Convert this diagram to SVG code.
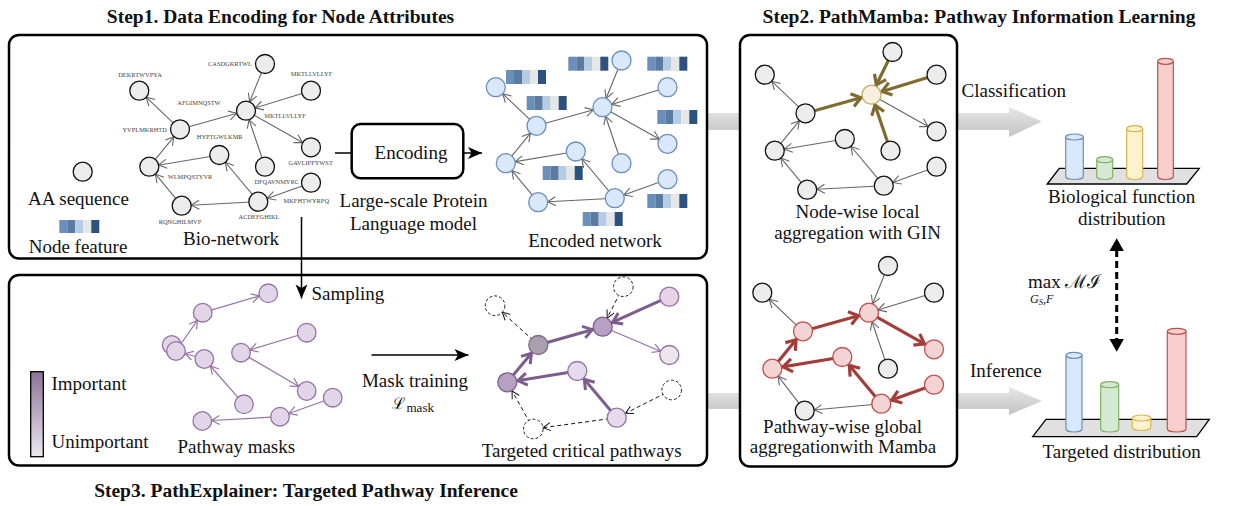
<svg xmlns="http://www.w3.org/2000/svg" width="1250" height="506" viewBox="0 0 1250 506">
<style>
  text { font-family: "Liberation Serif", "Times New Roman", serif; fill: #111; }
  .title { font-size: 19.5px; font-weight: bold; text-anchor: middle; }
  .lbl { font-size: 19px; }
  .mid { text-anchor: middle; }
  .seq { font-size: 6.4px; fill: #444; text-anchor: middle; }
  .math { font-family: "DejaVu Serif", "Liberation Serif", serif; }
  .panel { fill: #fff; stroke: #000; stroke-width: 2.5; }
  .n-gray { fill: #ececec; stroke: #111; stroke-width: 1.3; }
  .n-blue { fill: #dae8fc; stroke: #6c8ebf; stroke-width: 1.3; }
  .n-gold { fill: #f7f0dc; stroke: #c2ad6e; stroke-width: 1.3; }
  .n-pink { fill: #f2d4d4; stroke: #c0504d; stroke-width: 1.3; }
  .n-mask { fill: #e1d5e7; stroke: #9673a6; stroke-width: 1.3; }
  .n-dash { fill: #fff; stroke: #222; stroke-width: 1; stroke-dasharray: 3 2; }
  .e-gray { stroke: #666; stroke-width: 1.1; fill: none; marker-end: url(#m-gray); }
  .e-olive { stroke: #7d6b2f; stroke-width: 3.2; fill: none; marker-end: url(#m-olive); }
  .e-red { stroke: #a33d3a; stroke-width: 3.2; fill: none; marker-end: url(#m-red); }
  .e-pur { stroke: #9673a6; stroke-width: 1.2; fill: none; marker-end: url(#m-pur); }
  .e-pur-thick { stroke: #7b5e8c; stroke-width: 3; fill: none; marker-end: url(#m-pur-thick); }
  .e-dash { stroke: #111; stroke-width: 1; stroke-dasharray: 4 3; fill: none; marker-end: url(#m-dash); }
  .e-flow { stroke: #000; stroke-width: 1.5; fill: none; marker-end: url(#m-flow); }
</style>
<defs>
  <marker id="m-gray" markerUnits="userSpaceOnUse" markerWidth="30" markerHeight="20" refX="19.5" refY="10" orient="auto" overflow="visible">
    <path d="M2,5.5 L10,10 L2,14.5" fill="none" stroke="#666" stroke-width="1.1"/>
  </marker>
  <marker id="m-pur" markerUnits="userSpaceOnUse" markerWidth="30" markerHeight="20" refX="19.3" refY="10" orient="auto" overflow="visible">
    <path d="M2,5.5 L10,10 L2,14.5" fill="none" stroke="#9673a6" stroke-width="1.2"/>
  </marker>
  <marker id="m-dash" markerUnits="userSpaceOnUse" markerWidth="30" markerHeight="20" refX="19.8" refY="10" orient="auto" overflow="visible">
    <path d="M2.5,6 L10,10 L2.5,14" fill="none" stroke="#111" stroke-width="1"/>
  </marker>
  <marker id="m-olive" markerUnits="userSpaceOnUse" markerWidth="30" markerHeight="24" refX="21" refY="10" orient="auto" overflow="visible">
    <path d="M1,3.5 L10,10 L1,16.5" fill="none" stroke="#7d6b2f" stroke-width="3.2"/>
  </marker>
  <marker id="m-red" markerUnits="userSpaceOnUse" markerWidth="30" markerHeight="24" refX="21" refY="10" orient="auto" overflow="visible">
    <path d="M1,3.5 L10,10 L1,16.5" fill="none" stroke="#a33d3a" stroke-width="3.2"/>
  </marker>
  <marker id="m-pur-thick" markerUnits="userSpaceOnUse" markerWidth="30" markerHeight="24" refX="20.8" refY="10" orient="auto" overflow="visible">
    <path d="M1,4 L10,10 L1,16" fill="none" stroke="#7b5e8c" stroke-width="3"/>
  </marker>
  <marker id="m-flow" markerUnits="userSpaceOnUse" markerWidth="16" markerHeight="14" refX="14" refY="7" orient="auto" overflow="visible">
    <path d="M0,1 L14,7 L0,13 L3.5,7 Z" fill="#000"/>
  </marker>
  <linearGradient id="g-band" x1="0" y1="0" x2="0" y2="1">
    <stop offset="0" stop-color="#e6e6e6"/>
    <stop offset="1" stop-color="#c4c4c4"/>
  </linearGradient>
  <linearGradient id="g-legend" x1="0" y1="0" x2="0" y2="1">
    <stop offset="0" stop-color="#8b7397"/>
    <stop offset="1" stop-color="#ece8ef"/>
  </linearGradient>
  <g id="feat">
    <rect x="0" y="0" width="8" height="14" fill="#6a8fba"/>
    <rect x="8" y="0" width="8" height="14" fill="#5a7ca3"/>
    <rect x="16" y="0" width="8" height="14" fill="#b5cce3"/>
    <rect x="24" y="0" width="8" height="14" fill="#e6e6e6"/>
    <rect x="32" y="0" width="8" height="14" fill="#2d527d"/>
  </g>
  <!-- shared edge layout of the protein network -->
  <g id="net-edges-base">
    <line x1="180" y1="129.3" x2="139.3" y2="90.7"/>
    <line x1="265" y1="166.7" x2="246" y2="110.7"/>
    <line x1="149.3" y1="166.7" x2="180" y2="129.3"/>
    <line x1="219.3" y1="155" x2="149.3" y2="166.7"/>
    <line x1="181.7" y1="205.7" x2="149.3" y2="166.7"/>
    <line x1="258.3" y1="201.7" x2="181.7" y2="205.7"/>
    <line x1="258.3" y1="201.7" x2="219.3" y2="155"/>
    <line x1="311" y1="182.7" x2="258.3" y2="201.7"/>
  </g>
</defs>

<!-- wide grey flow arrows (behind panels) -->
<g id="flow-bands">
  <path d="M706,113 H1009 V107 L1042,121.5 L1009,137 V130 H706 Z" fill="url(#g-band)"/>
  <path d="M706,393 H1009 V387 L1042,401 L1009,415 V409 H706 Z" fill="url(#g-band)"/>
</g>

<!-- panels -->
<g id="panels">
  <rect id="panel-step1" class="panel" x="9" y="35" width="698" height="223.5" rx="10"/>
  <rect id="panel-step3" class="panel" x="9" y="275" width="698" height="190.5" rx="10"/>
  <rect id="panel-step2" class="panel" x="740" y="35" width="217" height="431.5" rx="10"/>
</g>

<!-- titles -->
<text class="title" x="280.5" y="23">Step1. Data Encoding for Node Attributes</text>
<text class="title" x="979" y="23">Step2. PathMamba: Pathway Information Learning</text>
<text class="title" x="306" y="497">Step3. PathExplainer: Targeted Pathway Inference</text>

<g id="connectors">
  <!-- bio-network -->
  <g id="bio-edges" class="e-gray">
    <use href="#net-edges-base"/>
    <line x1="180" y1="129.3" x2="246" y2="110.7"/>
    <line x1="265" y1="64" x2="246" y2="110.7"/>
    <line x1="311" y1="90.7" x2="246" y2="110.7"/>
    <line x1="246" y1="110.7" x2="311" y2="147.3"/>
  </g>
  <!-- encoded network -->
  <g id="enc-edges" class="e-gray" transform="translate(356.5,-3.5)">
    <use href="#net-edges-base"/>
    <line x1="180" y1="129.3" x2="246" y2="110.7"/>
    <line x1="265" y1="64" x2="246" y2="110.7"/>
    <line x1="311" y1="90.7" x2="246" y2="110.7"/>
    <line x1="246" y1="110.7" x2="311" y2="147.3"/>
  </g>
  <!-- GIN local aggregation -->
  <g id="gin-edges" transform="translate(625.5,-16)">
    <g class="e-gray">
      <line x1="180" y1="129.3" x2="139.3" y2="90.7"/>
      <line x1="149.3" y1="166.7" x2="180" y2="129.3"/>
      <line x1="219.3" y1="155" x2="149.3" y2="166.7"/>
      <line x1="181.7" y1="205.7" x2="149.3" y2="166.7"/>
      <line x1="258.3" y1="201.7" x2="181.7" y2="205.7"/>
      <line x1="258.3" y1="201.7" x2="219.3" y2="155"/>
      <line x1="311" y1="182.7" x2="258.3" y2="201.7"/>
      <line x1="246" y1="110.7" x2="311" y2="147.3"/>
    </g>
    <g class="e-olive">
      <line x1="180" y1="129.3" x2="246" y2="110.7"/>
      <line x1="267" y1="68" x2="246" y2="110.7"/>
      <line x1="311" y1="90.7" x2="246" y2="110.7"/>
      <line x1="265" y1="166.7" x2="246" y2="110.7"/>
    </g>
  </g>
  <!-- Mamba pathway aggregation -->
  <g id="mamba-edges" transform="translate(623,202)">
    <g class="e-gray">
      <line x1="180" y1="129.3" x2="139.3" y2="90.7"/>
      <line x1="265" y1="64" x2="246" y2="110.7"/>
      <line x1="311" y1="90.7" x2="246" y2="110.7"/>
      <line x1="265" y1="166.7" x2="246" y2="110.7"/>
      <line x1="181.7" y1="208.7" x2="149.3" y2="166.7"/>
      <line x1="258.3" y1="201.7" x2="181.7" y2="208.7"/>
    </g>
    <g class="e-red">
      <line x1="149.3" y1="166.7" x2="180" y2="129.3"/>
      <line x1="180" y1="129.3" x2="246" y2="110.7"/>
      <line x1="246" y1="110.7" x2="311" y2="147.3"/>
      <line x1="219.3" y1="155" x2="149.3" y2="166.7"/>
      <line x1="258.3" y1="201.7" x2="219.3" y2="155"/>
      <line x1="311" y1="182.7" x2="258.3" y2="201.7"/>
    </g>
  </g>
  <!-- pathway masks -->
  <g id="mask-edges" class="e-pur">
    <line x1="202.7" y1="312.7" x2="268.3" y2="293.3"/>
    <line x1="176" y1="351" x2="202.7" y2="312.7"/>
    <line x1="204.3" y1="359" x2="176" y2="351"/>
    <line x1="244" y1="404.3" x2="204.3" y2="359"/>
    <line x1="306.7" y1="332.7" x2="241" y2="352.7"/>
    <line x1="241" y1="352.7" x2="306.7" y2="391"/>
    <line x1="332.7" y1="397.7" x2="280" y2="416.7"/>
    <line x1="280" y1="416.7" x2="202.3" y2="421"/>
  </g>
  <!-- targeted critical pathways -->
  <g id="target-edges">
    <g class="e-dash">
      <line x1="538.3" y1="345" x2="495" y2="305.7"/>
      <line x1="623.3" y1="286.7" x2="602.7" y2="326.7"/>
      <line x1="671.7" y1="390" x2="616.7" y2="417.7"/>
      <line x1="616.7" y1="417.7" x2="533.3" y2="429"/>
      <line x1="533.3" y1="429" x2="507.3" y2="382.3"/>
    </g>
    <line class="e-pur" x1="602.7" y1="326.7" x2="669.3" y2="355"/>
    <g class="e-pur-thick">
      <line x1="538.3" y1="345" x2="602.7" y2="326.7"/>
      <line x1="669.3" y1="296.7" x2="602.7" y2="326.7"/>
      <line x1="507.3" y1="382.3" x2="538.3" y2="345"/>
      <line x1="577.3" y1="371" x2="507.3" y2="382.3"/>
      <line x1="616.7" y1="417.7" x2="577.3" y2="371"/>
    </g>
  </g>
  <!-- process flow -->
  <g id="flow-arrows">
    <line x1="335" y1="153" x2="352" y2="153" stroke="#000" stroke-width="1.5"/>
    <line class="e-flow" x1="463.5" y1="153" x2="482" y2="153"/>
    <line class="e-flow" x1="301.5" y1="217" x2="301.5" y2="298.5"/>
    <line class="e-flow" x1="371.5" y1="355" x2="468.5" y2="355"/>
  </g>
  <!-- mutual-information link -->
  <g id="mi-link">
    <line x1="1116.7" y1="250" x2="1116.7" y2="340" stroke="#000" stroke-width="3" stroke-dasharray="7 4"/>
    <polygon points="1116.7,238.3 1109.5,251 1123.9,251" fill="#000"/>
    <polygon points="1116.7,351.7 1109.5,339 1123.9,339" fill="#000"/>
  </g>
</g>

<!-- Step1: bio-network -->
<g id="bio-network">
  <g id="bio-dekr"><circle class="n-gray" cx="139.3" cy="90.7" r="9.5"/><text class="seq" x="140" y="77">DEKRTWVPYA</text></g>
  <g id="bio-casd"><circle class="n-gray" cx="265" cy="64" r="9.5"/><text class="seq" x="230" y="66">CASDGKRTWL</text></g>
  <g id="bio-mktl"><circle class="n-gray" cx="311" cy="90.7" r="9.5"/><text class="seq" x="311.5" y="75.5">MKTLLVLLYF</text></g>
  <g id="bio-hub"><circle class="n-gray" cx="246" cy="110.7" r="9.5"/><text class="seq" x="199" y="105">AFGIMNQSTW</text><text class="seq" x="285" y="117.5">MKTLLVLLYF</text></g>
  <g id="bio-yvpl"><circle class="n-gray" cx="180" cy="129.3" r="9.5"/><text class="seq" x="144.7" y="131.5">YVPLMKRHTD</text></g>
  <g id="bio-gavl"><circle class="n-gray" cx="311" cy="147.3" r="9.5"/><text class="seq" x="310.7" y="164.5">GAVLIPFYWST</text></g>
  <g id="bio-hypt"><circle class="n-gray" cx="219.3" cy="155" r="9.5"/><text class="seq" x="219.7" y="139">HYPTGWLKMR</text></g>
  <g id="bio-wlmp"><circle class="n-gray" cx="149.3" cy="166.7" r="9.5"/><text class="seq" x="190" y="179">WLMPQSTYVR</text></g>
  <g id="bio-dfqa"><circle class="n-gray" cx="265" cy="166.7" r="9.5"/><text class="seq" x="276.7" y="184">DFQAVNMYRC</text></g>
  <g id="bio-mkfh"><circle class="n-gray" cx="311" cy="182.7" r="9.5"/><text class="seq" x="306.3" y="203">MKFHTWYRPQ</text></g>
  <g id="bio-acde"><circle class="n-gray" cx="258.3" cy="201.7" r="9.5"/><text class="seq" x="259" y="218.5">ACDEFGHIKL</text></g>
  <g id="bio-rqng"><circle class="n-gray" cx="181.7" cy="205.7" r="9.5"/><text class="seq" x="180" y="223.5">RQNGHILMVP</text></g>
</g>

<!-- legend of step 1 -->
<g id="aa-legend"><circle class="n-gray" cx="82.7" cy="171.7" r="9.5"/></g>
<g id="feature-legend"><use href="#feat" transform="translate(59.3,220) scale(1,0.93)"/></g>
<text class="lbl mid" x="78.5" y="205">AA sequence</text>
<text class="lbl mid" x="78" y="252.5">Node feature</text>
<text class="lbl mid" x="231" y="245">Bio-network</text>

<!-- encoder -->
<g id="encoder">
  <rect x="351.7" y="124" width="111.6" height="54.3" rx="9" fill="#fff" stroke="#000" stroke-width="2.5"/>
  <text class="lbl mid" x="411" y="158.5">Encoding</text>
</g>
<text class="lbl mid" x="413.5" y="206.5">Large-scale Protein</text>
<text class="lbl mid" x="413.5" y="229.5">Language model</text>

<!-- encoded network -->
<g id="encoded-network" transform="translate(356.5,-3.5)">
  <g id="enc-dekr"><circle class="n-blue" cx="139.3" cy="90.7" r="9.5"/></g>
  <g id="enc-casd"><circle class="n-blue" cx="265" cy="64" r="9.5"/></g>
  <g id="enc-mktl"><circle class="n-blue" cx="311" cy="90.7" r="9.5"/></g>
  <g id="enc-hub"><circle class="n-blue" cx="246" cy="110.7" r="9.5"/></g>
  <g id="enc-yvpl"><circle class="n-blue" cx="180" cy="129.3" r="9.5"/></g>
  <g id="enc-gavl"><circle class="n-blue" cx="311" cy="147.3" r="9.5"/></g>
  <g id="enc-hypt"><circle class="n-blue" cx="219.3" cy="155" r="9.5"/></g>
  <g id="enc-wlmp"><circle class="n-blue" cx="149.3" cy="166.7" r="9.5"/></g>
  <g id="enc-dfqa"><circle class="n-blue" cx="265" cy="166.7" r="9.5"/></g>
  <g id="enc-mkfh"><circle class="n-blue" cx="311" cy="182.7" r="9.5"/></g>
  <g id="enc-acde"><circle class="n-blue" cx="258.3" cy="201.7" r="9.5"/></g>
  <g id="enc-rqng"><circle class="n-blue" cx="181.7" cy="205.7" r="9.5"/></g>
</g>
<g id="encoded-features">
  <use href="#feat" x="506" y="70"/>
  <use href="#feat" x="568.3" y="56.7"/>
  <use href="#feat" x="647.3" y="56.7"/>
  <use href="#feat" x="526.7" y="96"/>
  <use href="#feat" x="657.3" y="110"/>
  <use href="#feat" x="542.7" y="166"/>
  <use href="#feat" x="647.3" y="194"/>
  <use href="#feat" x="582.7" y="212"/>
</g>
<text class="lbl mid" x="595" y="246.5">Encoded network</text>

<!-- Step2: GIN -->
<g id="gin-network" transform="translate(625.5,-16)">
  <g id="gin-dekr"><circle class="n-gray" cx="139.3" cy="90.7" r="9.5"/></g>
  <g id="gin-casd"><circle class="n-gray" cx="267" cy="68" r="9.5"/></g>
  <g id="gin-mktl"><circle class="n-gray" cx="311" cy="90.7" r="9.5"/></g>
  <g id="gin-hub"><circle class="n-gold" cx="246" cy="110.7" r="9.5"/></g>
  <g id="gin-yvpl"><circle class="n-gray" cx="180" cy="129.3" r="9.5"/></g>
  <g id="gin-gavl"><circle class="n-gray" cx="311" cy="147.3" r="9.5"/></g>
  <g id="gin-hypt"><circle class="n-gray" cx="219.3" cy="155" r="9.5"/></g>
  <g id="gin-wlmp"><circle class="n-gray" cx="149.3" cy="166.7" r="9.5"/></g>
  <g id="gin-dfqa"><circle class="n-gray" cx="265" cy="166.7" r="9.5"/></g>
  <g id="gin-mkfh"><circle class="n-gray" cx="311" cy="182.7" r="9.5"/></g>
  <g id="gin-acde"><circle class="n-gray" cx="258.3" cy="201.7" r="9.5"/></g>
  <g id="gin-rqng"><circle class="n-gray" cx="181.7" cy="205.7" r="9.5"/></g>
</g>
<text class="lbl mid" x="857.5" y="218">Node-wise local</text>
<text class="lbl mid" x="857.5" y="239">aggregation with GIN</text>

<!-- Step2: Mamba -->
<g id="mamba-network" transform="translate(623,202)">
  <g id="mb-dekr"><circle class="n-gray" cx="139.3" cy="90.7" r="9.5"/></g>
  <g id="mb-casd"><circle class="n-gray" cx="265" cy="64" r="9.5"/></g>
  <g id="mb-mktl"><circle class="n-gray" cx="311" cy="90.7" r="9.5"/></g>
  <g id="mb-hub"><circle class="n-pink" cx="246" cy="110.7" r="9.5"/></g>
  <g id="mb-yvpl"><circle class="n-pink" cx="180" cy="129.3" r="9.5"/></g>
  <g id="mb-gavl"><circle class="n-pink" cx="311" cy="147.3" r="9.5"/></g>
  <g id="mb-hypt"><circle class="n-pink" cx="219.3" cy="155" r="9.5"/></g>
  <g id="mb-wlmp"><circle class="n-pink" cx="149.3" cy="166.7" r="9.5"/></g>
  <g id="mb-dfqa"><circle class="n-gray" cx="265" cy="166.7" r="9.5"/></g>
  <g id="mb-mkfh"><circle class="n-pink" cx="311" cy="182.7" r="9.5"/></g>
  <g id="mb-acde"><circle class="n-pink" cx="258.3" cy="201.7" r="9.5"/></g>
  <g id="mb-rqng"><circle class="n-gray" cx="181.7" cy="208.7" r="9.5"/></g>
</g>
<text class="lbl mid" x="842.5" y="433">Pathway-wise global</text>
<text class="lbl mid" x="843" y="453">aggregationwith Mamba</text>

<!-- flow labels -->
<text class="lbl" x="961.5" y="96.5">Classification</text>
<text class="lbl" x="970" y="376.5">Inference</text>

<!-- biological function distribution -->
<g id="chart-function">
  <polygon points="1047.3,184 1059.3,168.3 1199.3,168.3 1186.7,184" fill="#e0e0e0" stroke="#000" stroke-width="1.3"/>
  <g stroke-width="1.2">
    <path d="M1065.7,137 V176.5 A8.8,3 0 0 0 1083.3,176.5 V137" fill="#dae8fc" stroke="#6c8ebf"/>
    <ellipse cx="1074.5" cy="137" rx="8.8" ry="3" fill="#dae8fc" stroke="#6c8ebf"/>
    <path d="M1096.7,159.7 V176.5 A8,3 0 0 0 1112.7,176.5 V159.7" fill="#d5e8d4" stroke="#82b366"/>
    <ellipse cx="1104.7" cy="159.7" rx="8" ry="3" fill="#d5e8d4" stroke="#82b366"/>
    <path d="M1126.7,128.7 V176.5 A8,3 0 0 0 1142.7,176.5 V128.7" fill="#fff2cc" stroke="#d6b656"/>
    <ellipse cx="1134.7" cy="128.7" rx="8" ry="3" fill="#fff2cc" stroke="#d6b656"/>
    <path d="M1157.7,61.3 V176.5 A7.8,3 0 0 0 1173.3,176.5 V61.3" fill="#f8cecc" stroke="#b85450"/>
    <ellipse cx="1165.5" cy="61.3" rx="7.8" ry="3" fill="#f8cecc" stroke="#b85450"/>
  </g>
</g>
<text class="lbl mid" x="1121.7" y="203">Biological function</text>
<text class="lbl mid" x="1121.7" y="224.5">distribution</text>

<!-- mutual information objective -->
<text x="1028" y="288" font-size="19">max</text>
<text class="math" x="1065" y="288" font-size="19">ℳℐ</text>
<text x="1030" y="303" font-size="12" font-style="italic">G<tspan font-size="8.5" dy="2">S</tspan><tspan dy="-2">,F</tspan></text>

<!-- targeted distribution -->
<g id="chart-target">
  <polygon points="1032.7,436.7 1046,419.3 1209.3,419.3 1196.7,436.7" fill="#e0e0e0" stroke="#000" stroke-width="1.3"/>
  <g stroke-width="1.2">
    <path d="M1066,355.3 V429 A8,3 0 0 0 1082,429 V355.3" fill="#dae8fc" stroke="#6c8ebf"/>
    <ellipse cx="1074" cy="355.3" rx="8" ry="3" fill="#dae8fc" stroke="#6c8ebf"/>
    <path d="M1100.7,384.7 V429 A9,3 0 0 0 1118.7,429 V384.7" fill="#d5e8d4" stroke="#82b366"/>
    <ellipse cx="1109.7" cy="384.7" rx="9" ry="3" fill="#d5e8d4" stroke="#82b366"/>
    <path d="M1132.3,418 V427.5 A9.2,3 0 0 0 1150.7,427.5 V418" fill="#fff2cc" stroke="#d6b656"/>
    <ellipse cx="1141.5" cy="418" rx="9.2" ry="3" fill="#fff2cc" stroke="#d6b656"/>
    <path d="M1167.3,331.3 V429 A9.35,3 0 0 0 1186,429 V331.3" fill="#f8cecc" stroke="#b85450"/>
    <ellipse cx="1176.7" cy="331.3" rx="9.35" ry="3" fill="#f8cecc" stroke="#b85450"/>
  </g>
</g>
<text class="lbl mid" x="1121.7" y="458">Targeted distribution</text>

<!-- Step3: importance legend -->
<g id="importance-legend">
  <rect x="30.7" y="371.7" width="12.6" height="85" fill="url(#g-legend)" stroke="#000" stroke-width="1.3"/>
</g>
<text class="lbl" x="51.5" y="389.5">Important</text>
<text class="lbl" x="51.5" y="447.5">Unimportant</text>
<text class="lbl" x="311.5" y="300">Sampling</text>

<!-- pathway masks -->
<g id="mask-network">
  <g id="mk-1"><circle class="n-mask" cx="268.3" cy="293.3" r="9.3"/></g>
  <g id="mk-2"><circle class="n-mask" cx="202.7" cy="312.7" r="9.3"/></g>
  <g id="mk-3"><circle class="n-mask" cx="306.7" cy="332.7" r="9.3"/></g>
  <g id="mk-4a"><circle class="n-mask" cx="171.7" cy="345" r="9.3"/></g>
  <g id="mk-4b"><circle class="n-mask" cx="176" cy="351" r="9.3"/></g>
  <g id="mk-5"><circle class="n-mask" cx="241" cy="352.7" r="9.3"/></g>
  <g id="mk-6"><circle class="n-mask" cx="204.3" cy="359" r="9.3"/></g>
  <g id="mk-7"><circle class="n-mask" cx="306.7" cy="391" r="9.3"/></g>
  <g id="mk-8"><circle class="n-mask" cx="332.7" cy="397.7" r="9.3"/></g>
  <g id="mk-9"><circle class="n-mask" cx="244" cy="404.3" r="9.3"/></g>
  <g id="mk-10"><circle class="n-mask" cx="280" cy="416.7" r="9.3"/></g>
  <g id="mk-11"><circle class="n-mask" cx="202.3" cy="421" r="9.3"/></g>
</g>
<text class="lbl mid" x="236.3" y="453">Pathway masks</text>

<text class="lbl mid" x="415" y="386.5">Mask training</text>
<text class="math" x="391.5" y="408.5" font-size="16">ℒ</text>
<text x="406.5" y="411.5" font-size="13">mask</text>

<!-- targeted critical pathways -->
<g id="target-network">
  <g id="tg-d1"><circle class="n-dash" cx="495" cy="305.7" r="9.8"/></g>
  <g id="tg-d2"><circle class="n-dash" cx="623.3" cy="286.7" r="9.8"/></g>
  <g id="tg-a"><circle cx="669.3" cy="296.7" r="9.5" fill="#e8d2e4" stroke="#9673a6" stroke-width="1.3"/></g>
  <g id="tg-b"><circle cx="602.7" cy="326.7" r="9.5" fill="#b7a0c4" stroke="#7b5e8c" stroke-width="1.3"/></g>
  <g id="tg-c"><circle cx="538.3" cy="345" r="9.5" fill="#aaa1af" stroke="#7b6c86" stroke-width="1.3"/></g>
  <g id="tg-e"><circle cx="669.3" cy="355" r="9.5" fill="#eae6ec" stroke="#9673a6" stroke-width="1.3"/></g>
  <g id="tg-f"><circle cx="577.3" cy="371" r="9.5" fill="#e6daec" stroke="#9673a6" stroke-width="1.3"/></g>
  <g id="tg-g"><circle cx="507.3" cy="382.3" r="9.5" fill="#b6a1c3" stroke="#7b5e8c" stroke-width="1.3"/></g>
  <g id="tg-d3"><circle class="n-dash" cx="671.7" cy="390" r="9.8"/></g>
  <g id="tg-h"><circle cx="616.7" cy="417.7" r="9.5" fill="#e6daec" stroke="#9673a6" stroke-width="1.3"/></g>
  <g id="tg-d4"><circle class="n-dash" cx="533.3" cy="429" r="9.8"/></g>
</g>
<text class="lbl mid" x="581.7" y="456.5">Targeted critical pathways</text>
</svg>
